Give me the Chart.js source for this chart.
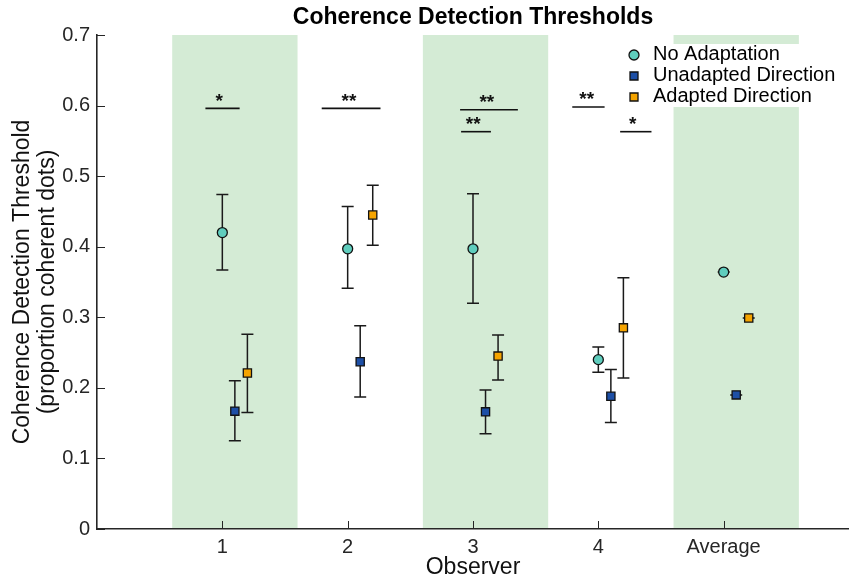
<!DOCTYPE html>
<html>
<head>
<meta charset="utf-8">
<script src="https://cdn.jsdelivr.net/npm/chart.js@4.4.1/dist/chart.umd.min.js"></script>
<style>
  html, body { margin: 0; padding: 0; background: #fff; }
  #wrap { width: 849px; height: 579px; }
</style>
</head>
<body>
<div id="wrap"><canvas id="chart" width="849" height="579"></canvas></div>
<script>
// observers along x
const observerX = [1, 2, 3, 4, 5];
const observerLabels = ['1', '2', '3', '4', 'Average'];

// thresholds: mean and error bar ends per observer
const noAdaptMean = [0.420, 0.397, 0.397, 0.240, 0.364];
const noAdaptLow  = [0.367, 0.341, 0.320, 0.222, 0.364];
const noAdaptHigh = [0.474, 0.457, 0.475, 0.258, 0.364];

const unadaptMean = [0.167, 0.237, 0.166, 0.188, 0.190];
const unadaptLow  = [0.125, 0.187, 0.135, 0.151, 0.190];
const unadaptHigh = [0.210, 0.288, 0.197, 0.226, 0.190];

const adaptMean = [0.221, 0.445, 0.245, 0.285, 0.299];
const adaptLow  = [0.165, 0.402, 0.211, 0.214, 0.299];
const adaptHigh = [0.276, 0.487, 0.275, 0.356, 0.299];

// each condition sits a little right of the observer tick
const conditionOffset = [0, 0.1, 0.2];

// shaded columns
const bandStart = [0.6, 2.6, 4.6];
const bandEnd   = [1.6, 3.6, 5.6];

// significance brackets
const sigFrom  = [0.865, 1.793, 2.897, 2.905, 3.792, 4.174];
const sigTo    = [1.138, 2.262, 3.358, 3.143, 4.050, 4.424];
const sigLevel = [0.596, 0.596, 0.594, 0.563, 0.598, 0.563];
const sigStarX = [0.975, 2.010, 3.110, 3.002, 3.907, 4.275];
const sigStars = ['*', '**', '**', '**', '**', '*'];

const legendLabels = ['No Adaptation', 'Unadapted Direction', 'Adapted Direction'];
const colors = ['#5fcdbd', '#1d4fa6', '#f5a400'];

const FONT = '"Liberation Sans", Arial, Helvetica, sans-serif';
const AXIS = '#262626';

const conditions = [
  { mean: noAdaptMean, low: noAdaptLow, high: noAdaptHigh, style: 'circle', radius: 5 },
  { mean: unadaptMean, low: unadaptLow, high: unadaptHigh, style: 'rect', radius: 5.8 },
  { mean: adaptMean, low: adaptLow, high: adaptHigh, style: 'rect', radius: 5.8 }
];

const pointSets = conditions.map((c, k) => ({
  type: 'scatter',
  label: legendLabels[k],
  data: c.mean.map((v, i) => ({ x: observerX[i] + conditionOffset[k], y: v })),
  pointStyle: c.style,
  pointRadius: c.radius,
  pointHoverRadius: c.radius,
  backgroundColor: colors[k],
  borderColor: '#111',
  borderWidth: 1.3
}));

const bracketSets = sigFrom.map((x0, i) => ({
  type: 'line',
  label: 'sig' + i,
  data: [{ x: x0, y: sigLevel[i] }, { x: sigTo[i], y: sigLevel[i] }],
  borderColor: '#111',
  borderWidth: 1.6,
  pointRadius: 0,
  fill: false
}));

const bands = {
  id: 'bands',
  beforeDraw(chart) {
    const { ctx, chartArea, scales } = chart;
    ctx.save();
    ctx.fillStyle = '#d4ebd5';
    bandStart.forEach((b, i) => {
      const x0 = scales.x.getPixelForValue(b);
      const x1 = scales.x.getPixelForValue(bandEnd[i]);
      ctx.fillRect(x0, chartArea.top, x1 - x0, chartArea.bottom - chartArea.top);
    });
    ctx.restore();
  }
};

const errorBars = {
  id: 'errorBars',
  beforeDatasetsDraw(chart) {
    const { ctx, scales } = chart;
    ctx.save();
    ctx.strokeStyle = '#1a1a1a';
    ctx.lineWidth = 1.5;
    conditions.forEach((c, k) => {
      c.mean.forEach((v, i) => {
        const x = scales.x.getPixelForValue(observerX[i] + conditionOffset[k]);
        const yl = scales.y.getPixelForValue(c.low[i]);
        const yh = scales.y.getPixelForValue(c.high[i]);
        ctx.beginPath();
        ctx.moveTo(x, yl); ctx.lineTo(x, yh);
        ctx.moveTo(x - 6, yl); ctx.lineTo(x + 6, yl);
        ctx.moveTo(x - 6, yh); ctx.lineTo(x + 6, yh);
        ctx.stroke();
      });
    });
    // inward tick marks
    ctx.strokeStyle = AXIS;
    ctx.lineWidth = 1;
    const area = chart.chartArea;
    ctx.beginPath();
    scales.x.ticks.forEach(t => {
      const x = Math.round(scales.x.getPixelForValue(t.value)) + 0.5;
      ctx.moveTo(x, area.bottom); ctx.lineTo(x, area.bottom - 8);
    });
    scales.y.ticks.forEach(t => {
      const y = Math.round(scales.y.getPixelForValue(t.value)) + 0.5;
      ctx.moveTo(area.left, y); ctx.lineTo(area.left + 8, y);
    });
    ctx.stroke();
    ctx.restore();
  }
};

const annotations = {
  id: 'annotations',
  afterDatasetsDraw(chart) {
    const { ctx, scales } = chart;
    ctx.save();
    ctx.fillStyle = '#111';
    ctx.font = 'bold 19px ' + FONT;
    ctx.textAlign = 'center';
    ctx.textBaseline = 'middle';
    sigStars.forEach((s, i) => {
      const x = scales.x.getPixelForValue(sigStarX[i]);
      const y = scales.y.getPixelForValue(sigLevel[i]);
      ctx.fillText(s, x, y - 7);
    });

    // legend box
    ctx.fillStyle = '#fff';
    ctx.fillRect(614, 44, 235, 63);
    const rows = [55, 76, 97];
    ctx.font = '20px ' + FONT;
    ctx.textAlign = 'left';
    legendLabels.forEach((lab, k) => {
      const y = rows[k];
      ctx.fillStyle = colors[k];
      ctx.strokeStyle = '#111';
      ctx.lineWidth = 1.3;
      ctx.beginPath();
      if (k === 0) {
        ctx.arc(634, y, 5, 0, Math.PI * 2);
      } else {
        ctx.rect(630, y - 4, 8, 8);
      }
      ctx.fill();
      ctx.stroke();
      ctx.fillStyle = '#000';
      ctx.fillText(lab, 653, y - 1);
    });
    ctx.restore();
  }
};

new Chart(document.getElementById('chart'), {
  data: { datasets: [...bracketSets, ...pointSets] },
  options: {
    responsive: false,
    animation: false,
    devicePixelRatio: 1,
    layout: { padding: 0, autoPadding: false },
    plugins: {
      legend: { display: false },
      tooltip: { enabled: false },
      title: {
        display: true,
        text: 'Coherence Detection Thresholds',
        fullSize: false,
        color: '#000',
        font: { family: FONT, size: 23, weight: 'bold', lineHeight: 1.15 },
        padding: { top: 4, bottom: 4.55 }
      }
    },
    scales: {
      x: {
        type: 'linear',
        min: 0,
        max: 6,
        afterBuildTicks(scale) {
          scale.ticks = observerX.map(v => ({ value: v }));
        },
        afterFit(scale) {
          scale.height = 50;
          scale.paddingLeft = 0;
          scale.paddingRight = 0;
        },
        ticks: {
          autoSkip: false,
          maxRotation: 0,
          padding: 6,
          color: AXIS,
          font: { family: FONT, size: 20 },
          callback: v => observerLabels[observerX.indexOf(v)]
        },
        grid: { drawOnChartArea: false, drawTicks: false },
        border: { display: true, color: AXIS, width: 1.6 },
        title: {
          display: true,
          text: 'Observer',
          color: '#111',
          font: { family: FONT, size: 23, lineHeight: 0.95 },
          padding: { top: 0, bottom: 0 }
        }
      },
      y: {
        type: 'linear',
        min: 0,
        max: 0.7,
        afterFit(scale) { scale.width = 97; },
        ticks: {
          stepSize: 0.1,
          padding: 7,
          color: AXIS,
          font: { family: FONT, size: 20 },
          callback: v => (Math.abs(v) < 1e-9 ? '0' : v.toFixed(1))
        },
        grid: { drawOnChartArea: false, drawTicks: false },
        border: { display: true, color: AXIS, width: 1.6 },
        title: {
          display: true,
          text: ['Coherence Detection Threshold', '(proportion coherent dots)'],
          color: '#111',
          font: { family: FONT, size: 23, lineHeight: 1.087 },
          padding: { top: 10.5, bottom: 0 }
        }
      }
    }
  },
  plugins: [bands, errorBars, annotations]
});
</script>
</body>
</html>
